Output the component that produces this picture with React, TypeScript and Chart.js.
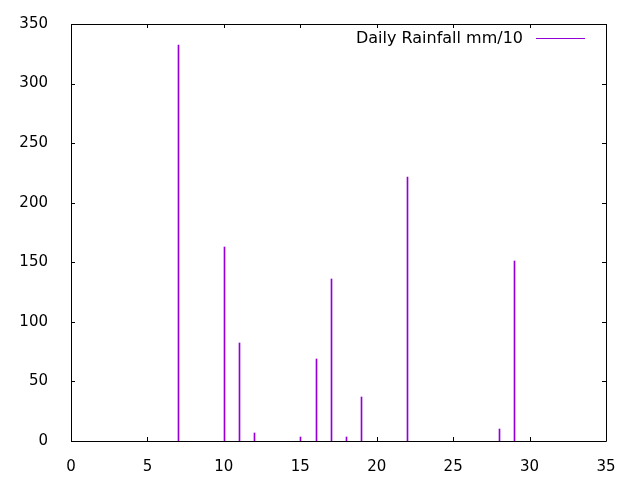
import { useEffect, useRef } from 'react';
import { Chart, registerables } from 'chart.js';

Chart.register(...registerables);

// rainfall days and amounts (mm/10)
const days = [7, 10, 11, 12, 15, 16, 17, 18, 19, 22, 28, 29];
const rainfall = [332, 163, 82, 7, 3, 69, 136, 3, 37, 222, 10, 151];
const xTicks = [0, 5, 10, 15, 20, 25, 30, 35];
const yTicks = [0, 50, 100, 150, 200, 250, 300, 350];

const PURPLE = '#9400d3';
const FONT = 'DejaVu Sans';

// gnuplot style frame with inward ticks on all four sides, drawn under the impulses
const framePlugin = {
  id: 'frame',
  beforeDatasetsDraw(chart: any) {
    const { ctx, chartArea: a, scales } = chart;
    const len = 4;
    ctx.save();
    ctx.strokeStyle = '#000';
    ctx.lineWidth = 1;
    ctx.beginPath();
    ctx.rect(Math.round(a.left) + 0.5, Math.round(a.top) + 0.5, Math.round(a.right - a.left), Math.round(a.bottom - a.top));
    for (const v of xTicks) {
      const px = Math.round(scales.x.getPixelForValue(v)) + 0.5;
      ctx.moveTo(px, a.bottom);
      ctx.lineTo(px, a.bottom - len);
      ctx.moveTo(px, a.top);
      ctx.lineTo(px, a.top + len);
    }
    for (const v of yTicks) {
      const py = Math.round(scales.y.getPixelForValue(v)) + 0.5;
      ctx.moveTo(a.left, py);
      ctx.lineTo(a.left + len, py);
      ctx.moveTo(a.right, py);
      ctx.lineTo(a.right - len, py);
    }
    ctx.stroke();
    ctx.restore();

    // snap the 1px impulses to whole pixels so they stay crisp
    for (const el of chart.getDatasetMeta(0).data) {
      el.x = Math.round(el.x) + 0.5;
      el.y = Math.round(el.y);
    }
  },
  afterDatasetsDraw(chart: any) {
    const { ctx, chartArea: a } = chart;
    // key, top right inside the plot
    const label = chart.data.datasets[0].label;
    const lineEnd = a.right - 21;
    const lineStart = lineEnd - 49;
    const y = a.top + 14.5;
    ctx.save();
    ctx.font = `16px "${FONT}"`;
    ctx.fillStyle = '#000';
    ctx.textAlign = 'right';
    ctx.textBaseline = 'middle';
    ctx.fillText(label, lineStart - 13, y);
    ctx.strokeStyle = PURPLE;
    ctx.lineWidth = 1;
    ctx.beginPath();
    ctx.moveTo(lineStart, y);
    ctx.lineTo(lineEnd, y);
    ctx.stroke();
    ctx.restore();
  },
};

export default function App() {
  const canvasRef = useRef<HTMLCanvasElement>(null);

  useEffect(() => {
    document.body.style.margin = '0';
    if (!canvasRef.current) return;

    const chart = new Chart(canvasRef.current, {
      type: 'bar',
      data: {
        datasets: [
          {
            label: 'Daily Rainfall mm/10',
            data: days.map((d, i) => ({ x: d, y: rainfall[i] })),
            backgroundColor: PURPLE,
            borderWidth: 0,
            barThickness: 1,
          },
        ],
      },
      plugins: [framePlugin],
      options: {
        animation: false,
        responsive: false,
        devicePixelRatio: 1,
        layout: { padding: { top: 22, right: 34, left: 0, bottom: 0 } },
        plugins: { legend: { display: false }, tooltip: { enabled: false } },
        scales: {
          x: {
            type: 'linear',
            offset: false,
            min: 0,
            max: 35,
            grid: { display: false },
            border: { display: false },
            afterBuildTicks: (s: any) => { s.ticks = xTicks.map((v) => ({ value: v })); },
            afterFit: (s: any) => { s.height = 39; },
            ticks: { color: '#000', padding: 9, font: { family: FONT, size: 15 }, maxRotation: 0 },
          },
          y: {
            min: 0,
            max: 350,
            grid: { display: false },
            border: { display: false },
            afterBuildTicks: (s: any) => { s.ticks = yTicks.map((v) => ({ value: v })); },
            afterFit: (s: any) => { s.width = 71; },
            ticks: { color: '#000', padding: 15, font: { family: FONT, size: 15 } },
          },
        },
      },
    });

    return () => chart.destroy();
  }, []);

  return <canvas ref={canvasRef} width={640} height={480} style={{ display: 'block' }} />;
}
